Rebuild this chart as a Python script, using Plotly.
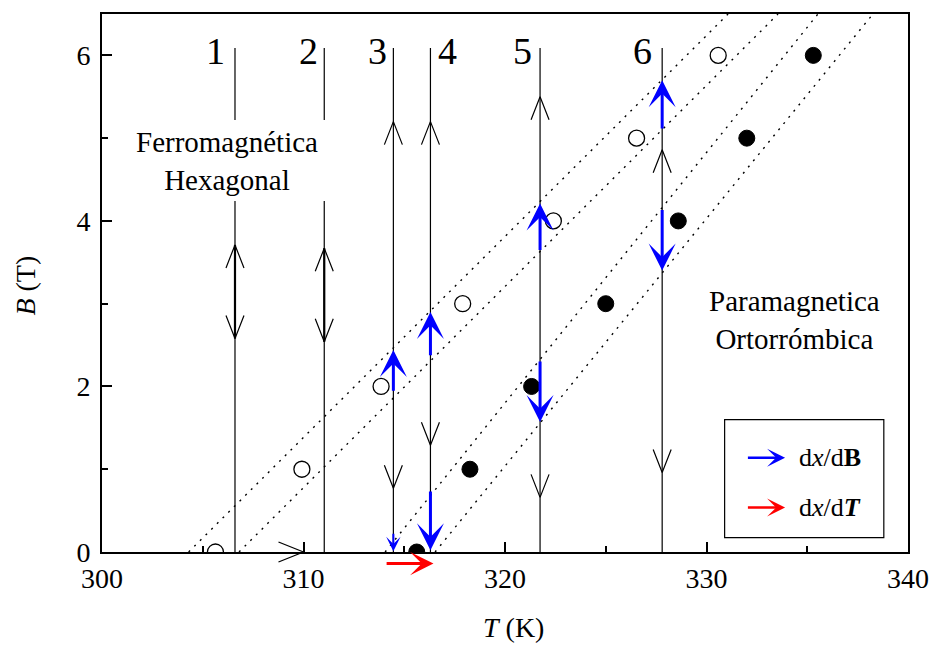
import plotly.graph_objects as go

# ---------------- data ----------------
open_T = [305.63, 309.92, 313.85, 317.9, 322.4, 326.53, 330.58]
open_B = [0, 1, 2, 3, 4, 5, 6]
filled_T = [315.62, 318.26, 321.32, 325.0, 328.6, 332.0, 335.3]
filled_B = [0, 1, 2, 3, 4, 5, 6]

# dotted guide lines: T at B=0 and T at B=6.5
guide_T0 = [304.3, 306.8, 314.05, 316.53]
guide_T1 = [331.07, 333.55, 335.53, 338.26]
guide_B = [0, 6.5]

# vertical measurement paths
path_T = [306.6, 311.03, 314.46, 316.3, 321.74, 327.8]
path_top = 6.09
gap_paths = [0, 1]
gap_B = [4.24, 5.22]
bold_B = [[2.58, 3.71], [2.54, 3.67]]
path_labels = ["1", "2", "3", "4", "5", "6"]
label_T = [305.63, 310.23, 313.65, 317.17, 320.89, 326.84]
label_B = 6.05

# open chevron arrows on the paths
chev_T = [306.6, 306.6, 311.03, 311.03, 314.46, 314.46, 316.3, 316.3, 321.74, 321.74, 327.8, 327.8]
chev_B = [3.71, 2.58, 3.67, 2.54, 5.2, 0.77, 5.2, 1.29, 5.5, 0.66, 4.86, 0.96]
chev_dir = [1, -1, 1, -1, 1, -1, 1, -1, 1, -1, 1, -1]
hchev_T = [310.0]

# blue dx/dB arrows
blue_T = [314.46, 314.46, 316.3, 316.3, 321.74, 321.74, 327.8, 327.8]
blue_from = [1.93, 0.24, 2.36, 0.75, 3.63, 2.32, 5.1, 4.15]
blue_to = [2.44, 0.01, 2.9, 0.02, 4.21, 1.57, 5.7, 3.4]
blue_small = [False, True, False, False, False, False, False, False]

# red dx/dT arrow
red_from = 314.05
red_to = 316.45
red_B = -0.14

x_ticks = [300, 310, 320, 330, 340]
y_ticks = [0, 2, 4, 6]

# ---------------- geometry helpers ----------------
X0, X1 = 300, 340
Y0, Y1 = 0, 6.5
ML, MR, MT, MB = 102, 25, 14, 93
W, H = 933, 645
PW, PH = W - ML - MR, H - MT - MB
pxK = PW / (X1 - X0)
pxB = PH / (Y1 - Y0)

FONT = "Liberation Serif, Times New Roman, serif"

fig = go.Figure()

# dotted guides
for t0, t1 in zip(guide_T0, guide_T1):
    fig.add_trace(go.Scatter(x=[t0, t1], y=guide_B, mode="lines",
                             line=dict(color="black", width=1.4, dash="2px,6px"),
                             hoverinfo="skip", showlegend=False))

# vertical paths
vx, vy = [], []
for i, t in enumerate(path_T):
    if i in gap_paths:
        vx += [t, t, None, t, t, None]
        vy += [0, gap_B[0], None, gap_B[1], path_top, None]
    else:
        vx += [t, t, None]
        vy += [0, path_top, None]
fig.add_trace(go.Scatter(x=vx, y=vy, mode="lines", line=dict(color="black", width=1.2),
                         hoverinfo="skip", showlegend=False))
bx, by = [], []
for i, seg in zip(gap_paths, bold_B):
    bx += [path_T[i], path_T[i], None]
    by += [seg[0], seg[1], None]
fig.add_trace(go.Scatter(x=bx, y=by, mode="lines", line=dict(color="black", width=2.2),
                         hoverinfo="skip", showlegend=False))

# chevrons
hw, ln = 9 / pxK, 23 / pxB
cx, cy = [], []
for t, b, d in zip(chev_T, chev_B, chev_dir):
    cx += [t - hw, t, t + hw, None]
    cy += [b - d * ln, b, b - d * ln, None]
fig.add_trace(go.Scatter(x=cx, y=cy, mode="lines", line=dict(color="black", width=1.2),
                         hoverinfo="skip", showlegend=False))
# horizontal chevron on the T axis (extends below the axis -> paper y)
hl, hh = 25 / pxK, 10 / PH
for t in hchev_T:
    for s in (1, -1):
        fig.add_shape(type="line", xref="x", yref="paper", x0=t - hl, y0=s * hh, x1=t, y1=0,
                      line=dict(color="black", width=1.2), layer="above")

# markers
fig.add_trace(go.Scatter(x=open_T, y=open_B, mode="markers",
                         marker=dict(size=16, color="white", line=dict(color="black", width=1.3)),
                         hoverinfo="skip", showlegend=False))
fig.add_trace(go.Scatter(x=filled_T, y=filled_B, mode="markers",
                         marker=dict(size=16, color="black", line=dict(color="black", width=1)),
                         hoverinfo="skip", showlegend=False))

ann = []
for t, b0, b1, sm in zip(blue_T, blue_from, blue_to, blue_small):
    ann.append(dict(x=t, y=b1, ax=t, ay=b0, xref="x", yref="y", axref="x", ayref="y",
                    text="", showarrow=True, arrowhead=3, arrowcolor="blue",
                    arrowwidth=2 if sm else 3, arrowsize=1.2 if sm else 1.5, standoff=0))
ann.append(dict(x=red_to, y=red_B / (Y1 - Y0), xref="x", yref="paper",
                ax=-(red_to - red_from) * pxK, ay=0, axref="pixel", ayref="pixel",
                text="", showarrow=True, arrowhead=3, arrowcolor="red",
                arrowwidth=3, arrowsize=1.3, standoff=0))

# path labels
for lab, t in zip(path_labels, label_T):
    ann.append(dict(x=t, y=label_B, xref="x", yref="y", text=lab, showarrow=False,
                    font=dict(family=FONT, size=38, color="black")))

ann.append(dict(x=306.2, y=4.72, xref="x", yref="y", text="Ferromagnética<br>Hexagonal",
                showarrow=False, font=dict(family=FONT, size=29, color="black")))
ann.append(dict(x=334.38, y=2.8, xref="x", yref="y", text="Paramagnetica<br>Ortorrómbica",
                showarrow=False, font=dict(family=FONT, size=29, color="black")))

# legend
fig.add_shape(type="rect", x0=330.9, x1=338.8, y0=0.174, y1=1.6, xref="x", yref="y",
              line=dict(color="black", width=1.2), fillcolor="white", layer="below")
leg_B = [1.14, 0.537]
leg_col = ["blue", "red"]
leg_txt = ["d<i>x</i>/d<b>B</b>", "d<i>x</i>/d<b><i>T</i></b>"]
for b, c, s in zip(leg_B, leg_col, leg_txt):
    ann.append(dict(x=333.9, y=b, ax=331.98, ay=b, xref="x", yref="y", axref="x", ayref="y",
                    text="", showarrow=True, arrowhead=3, arrowcolor=c, arrowwidth=2.5,
                    arrowsize=1.2, standoff=0))
    ann.append(dict(x=334.5, y=b, xref="x", yref="y", text=s, showarrow=False, xanchor="left",
                    font=dict(family=FONT, size=26, color="black")))

# axis titles
ann.append(dict(x=0.511, y=-0.140, xref="paper", yref="paper", text="<i>T</i> (K)",
                xanchor="center", yanchor="middle",
                showarrow=False, font=dict(family=FONT, size=28, color="black")))
ann.append(dict(x=-0.095, y=0.496, xref="paper", yref="paper", text="<i>B</i> (T)",
                xanchor="center", yanchor="middle",
                showarrow=False, textangle=-90, font=dict(family=FONT, size=28, color="black")))

axis_common = dict(showline=True, linewidth=2, linecolor="black", mirror=True,
                   ticks="inside", ticklen=10, tickwidth=1.5, tickcolor="black",
                   showgrid=False, zeroline=False, automargin=False, tickmode="linear",
                   tickfont=dict(family=FONT, size=28, color="black"))
fig.update_layout(
    template="none",
    width=W, height=H,
    margin=dict(l=ML, r=MR, t=MT, b=MB, autoexpand=False),
    paper_bgcolor="white", plot_bgcolor="white",
    annotations=ann,
    xaxis=dict(range=[X0, X1], tick0=x_ticks[0], dtick=x_ticks[1] - x_ticks[0],
               minor=dict(dtick=5, ticks="inside", ticklen=6, tickwidth=1.5, tickcolor="black"),
               **axis_common),
    yaxis=dict(range=[Y0, Y1], tick0=y_ticks[0], dtick=y_ticks[1] - y_ticks[0], ticklabelstandoff=4,
               minor=dict(dtick=1, ticks="inside", ticklen=6, tickwidth=1.5, tickcolor="black"),
               **axis_common),
)
fig.write_html("out.html")
